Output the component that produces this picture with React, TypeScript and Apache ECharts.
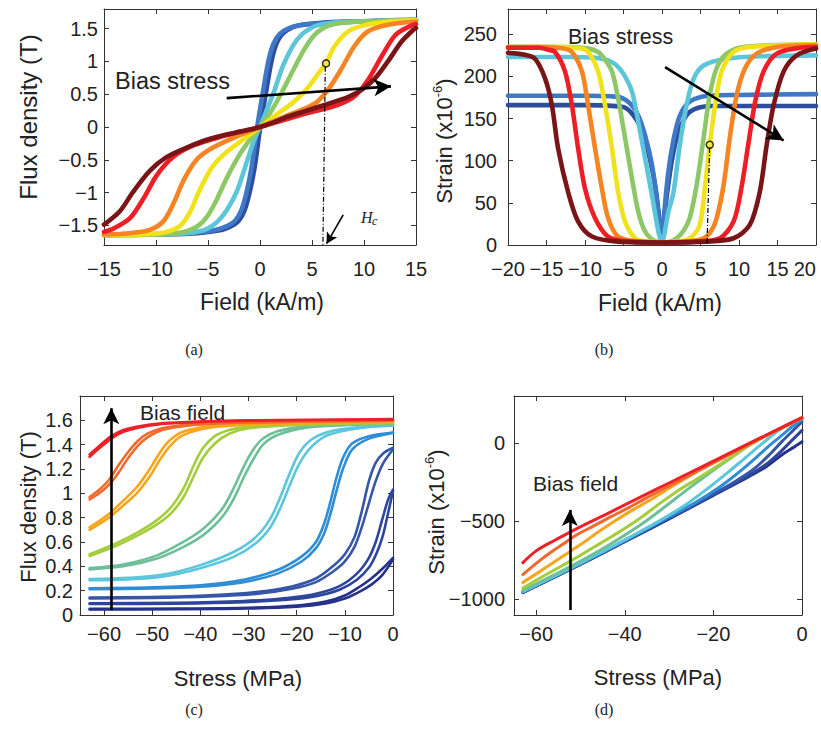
import React, { useEffect, useRef } from 'react';
import * as echarts from 'echarts';

// ---------- (a) Flux density vs field, one curve per bias stress ----------
const aFieldTicks = [-15, -10, -5, 0, 5, 10, 15];
const aFluxTicks = [-1.5, -1, -0.5, 0, 0.5, 1, 1.5];
const aBlueDark = [[-15,-1.65],[-12,-1.645],[-9,-1.64],[-6,-1.62],[-4,-1.58],[-3,-1.53],[-2.1,-1.44],[-1.5,-1.28],[-1.0,-1.0],[-0.5,-0.6],[0,-0.03],[0.6,0.55],[1.1,1.0],[1.6,1.28],[2.2,1.43],[3.1,1.52],[4,1.56],[6,1.59],[9,1.61],[12,1.625],[15,1.635]];
const aBlueMid = [[-15,-1.64],[-12,-1.635],[-9,-1.63],[-6,-1.61],[-4.3,-1.57],[-3.3,-1.52],[-2.4,-1.43],[-1.8,-1.27],[-1.3,-1.0],[-0.8,-0.6],[-0.3,-0.03],[0.3,0.55],[0.8,1.0],[1.3,1.27],[1.9,1.42],[2.8,1.51],[3.8,1.55],[6,1.585],[9,1.605],[12,1.62],[15,1.63]];
const aCyan = [[-15,-1.645],[-10,-1.64],[-7,-1.62],[-5.5,-1.58],[-4.8,-1.53],[-4,-1.43],[-3.2,-1.27],[-2.2,-0.97],[-1.3,-0.55],[-0.5,-0.17],[0,0],[0.5,0.2],[1.3,0.52],[2.2,0.93],[3.2,1.25],[4,1.41],[4.8,1.5],[5.5,1.55],[7,1.59],[10,1.61],[15,1.63]];
const aGreen = [[-15,-1.645],[-10,-1.64],[-8,-1.62],[-6.7,-1.57],[-5.8,-1.49],[-5.1,-1.37],[-4.2,-1.12],[-3.2,-0.78],[-2,-0.43],[-1,-0.2],[0,0],[1,0.22],[2,0.5],[3.2,0.87],[4.2,1.17],[5.1,1.38],[5.8,1.48],[6.7,1.55],[8,1.59],[10,1.61],[15,1.63]];
const aYellow = [[-15,-1.645],[-11,-1.635],[-9,-1.6],[-7.7,-1.51],[-6.7,-1.29],[-5.8,-0.96],[-4.5,-0.59],[-3.2,-0.38],[-1.6,-0.19],[0,0],[1.6,0.19],[3.3,0.39],[4.6,0.6],[5.9,0.88],[6.35,0.97],[7.2,1.24],[8.5,1.46],[10,1.55],[12,1.6],[15,1.63]];
const aOrange = [[-15,-1.64],[-12.5,-1.62],[-10.6,-1.57],[-9.3,-1.44],[-8.3,-1.16],[-7.3,-0.8],[-6.1,-0.5],[-4.8,-0.34],[-2.6,-0.17],[0,0],[2.7,0.18],[5.2,0.35],[6.5,0.56],[7.8,0.88],[9.1,1.24],[10.4,1.46],[12.3,1.56],[15,1.61]];
const aRed = [[-15,-1.6],[-14.1,-1.55],[-12.5,-1.39],[-11.2,-1.09],[-9.9,-0.73],[-8.3,-0.45],[-6.4,-0.28],[-3.8,-0.15],[0,0],[4.3,0.2],[7.5,0.34],[9.1,0.47],[10.4,0.72],[11.7,1.08],[13,1.4],[14.3,1.53],[15,1.57]];
const aMaroon = [[-15,-1.49],[-13.5,-1.29],[-12.2,-0.99],[-10.6,-0.67],[-9,-0.46],[-7,-0.31],[-4.8,-0.18],[-1.9,-0.07],[0,0],[1.1,0.06],[2.7,0.16],[5.9,0.32],[8.5,0.46],[9.8,0.57],[11.1,0.75],[12.3,1.0],[13.6,1.3],[14.6,1.46],[15,1.51]];
const aMarker = [[6.35, 0.97]];

// ---------- (b) Strain vs field ----------
const bFieldTicks = [-20, -15, -10, -5, 0, 5, 10, 15, 20];
const bStrainTicks = [0, 50, 100, 150, 200, 250];
const bBlueDark = [[-20,166],[-10,166],[-5.2,164],[-3.9,156],[-2.6,136],[-1.8,111],[-0.9,71],[-0.25,24],[0,3],[0.2,24],[0.8,71],[1.5,111],[2.3,138],[3.6,158],[6.2,165],[10,165],[20,165]];
const bBlueMid = [[-20,177],[-10,177],[-6,176],[-4.4,170],[-3.1,154],[-2.2,130],[-1.3,95],[-0.7,55],[-0.25,16],[0,3],[0.2,28],[0.8,85],[1.5,125],[2.3,153],[3.6,170],[6,177],[10,178],[20,179]];
const bCyan = [[-20,223],[-12,223],[-8.5,222],[-7,219],[-6,214],[-5,203],[-3.9,182],[-3.1,147],[-2.2,103],[-1.3,59],[-0.45,15],[0,3],[0.35,15],[0.8,38],[1.5,63],[2.3,118],[3.2,166],[4.1,197],[5.4,213],[8.4,221],[13,224],[20,225]];
const bGreen = [[-20,235],[-12,235],[-9.5,233],[-8.3,229],[-7.4,220],[-6.5,206],[-5.7,174],[-4.8,127],[-3.9,79],[-3.1,40],[-2.2,16],[-1,5],[0,3],[1,4],[1.9,8],[2.8,17],[3.6,32],[4.5,71],[5.4,127],[6.2,178],[7.1,210],[8.4,227],[10.6,235],[20,238]];
const bYellow = [[-20,235],[-13,235],[-10.5,233],[-9.6,229],[-8.3,206],[-7.4,166],[-6.5,115],[-5.7,63],[-4.8,28],[-3.5,8],[-2,4],[0,3],[2,4],[3.6,8],[4.9,24],[5.6,71],[6.2,119],[6.9,166],[7.75,206],[9.3,229],[11.4,235],[20,238]];
const bOrange = [[-20,235],[-15,235],[-12.8,233],[-11.7,229],[-10.4,206],[-9.6,166],[-8.7,115],[-7.8,67],[-7,32],[-5.7,10],[-3,4],[0,3],[3,4],[5.4,8],[6.4,17],[7.1,32],[8,71],[8.8,127],[9.7,178],[10.8,210],[12.3,227],[14.9,235],[20,237]];
const bRed = [[-20,234],[-16,234],[-14.9,232],[-13.9,229],[-12.6,206],[-11.7,166],[-10.9,115],[-10,67],[-8.7,32],[-7,10],[-4,4],[0,3],[4,4],[7.5,8],[9.3,28],[10.3,67],[11.2,119],[12.1,170],[13.2,206],[14.9,227],[17.9,234],[20,235]];
const bMaroon = [[-20,228],[-18,226],[-16.5,221],[-15.2,198],[-14.3,166],[-13.5,115],[-12.2,63],[-10.9,28],[-9.1,10],[-5.7,4],[0,3],[5.7,4],[9.3,8],[11.4,24],[12.7,63],[13.6,119],[14.5,166],[15.8,206],[17.5,225],[20,233]];
const bMarker = [[6.2, 119]];

// ---------- (c) Flux density vs stress, two branches per bias field ----------
const cStressTicks = [-60, -50, -40, -30, -20, -10, 0];
const cFluxTicks = [0, 0.2, 0.4, 0.6, 0.8, 1, 1.2, 1.4, 1.6];
const c1Up = [[-63,0.05],[-45,0.053],[-30,0.06],[-20,0.078],[-14,0.11],[-10,0.16],[-7,0.23],[-4.5,0.3],[-2.2,0.38],[0,0.47]];
const c1Dn = [[-63,0.045],[-45,0.047],[-30,0.053],[-20,0.068],[-14,0.095],[-10,0.135],[-7,0.19],[-4.5,0.25],[-2.2,0.33],[0,0.455]];
const c2Up = [[-63,0.096],[-45,0.1],[-31,0.115],[-22,0.14],[-16,0.175],[-11,0.24],[-7.5,0.34],[-5,0.47],[-3.5,0.61],[-2.2,0.79],[-1,0.95],[0,1.03]];
const c2Dn = [[-63,0.09],[-45,0.093],[-31,0.105],[-22,0.125],[-16,0.155],[-11,0.21],[-7.5,0.29],[-5,0.39],[-3.5,0.5],[-2.2,0.64],[-1,0.84],[0,1.02]];
const c3Up = [[-63,0.143],[-50,0.148],[-38,0.162],[-28,0.19],[-21,0.235],[-16,0.3],[-12.5,0.4],[-10,0.5],[-8,0.64],[-6.5,0.85],[-5,1.1],[-3.6,1.25],[-2,1.33],[0,1.375]];
const c3Dn = [[-63,0.136],[-50,0.14],[-38,0.152],[-28,0.175],[-21,0.215],[-16,0.27],[-12.5,0.355],[-10,0.44],[-8,0.56],[-6.5,0.72],[-5,0.92],[-3.6,1.1],[-2,1.25],[0,1.36]];
const c4Up = [[-63,0.22],[-50,0.228],[-40,0.245],[-31,0.29],[-24,0.37],[-19,0.48],[-16,0.6],[-14.3,0.75],[-13,0.93],[-11.8,1.12],[-10.4,1.29],[-8.5,1.41],[-5,1.47],[0,1.5]];
const c4Dn = [[-63,0.212],[-50,0.218],[-40,0.232],[-31,0.27],[-24,0.34],[-19,0.44],[-16,0.55],[-14.3,0.67],[-13,0.83],[-11.8,1.01],[-10.4,1.2],[-8.5,1.36],[-5,1.45],[0,1.497]];
const c5Up = [[-63,0.295],[-55,0.305],[-48,0.33],[-40,0.41],[-33,0.52],[-28.5,0.64],[-25.5,0.79],[-23.5,0.96],[-21.5,1.16],[-19.5,1.33],[-17,1.44],[-13.5,1.505],[-7,1.545],[0,1.56]];
const c5Dn = [[-63,0.285],[-55,0.293],[-48,0.315],[-40,0.385],[-33,0.48],[-28.5,0.59],[-25.5,0.72],[-23.5,0.87],[-21.5,1.06],[-19.5,1.24],[-17,1.38],[-13.5,1.48],[-7,1.535],[0,1.555]];
const c6Up = [[-63,0.385],[-56,0.415],[-49,0.49],[-44,0.59],[-40,0.69],[-37,0.8],[-35,0.9],[-33,1.05],[-31,1.22],[-29,1.36],[-27,1.45],[-24,1.51],[-18,1.55],[-10,1.565],[0,1.575]];
const c6Dn = [[-63,0.375],[-56,0.4],[-49,0.465],[-44,0.55],[-40,0.64],[-37,0.74],[-35,0.83],[-33,0.96],[-31,1.13],[-29,1.28],[-27,1.4],[-24,1.48],[-18,1.54],[-10,1.56],[0,1.572]];
const c7Up = [[-63,0.5],[-58,0.58],[-53,0.68],[-49,0.78],[-46,0.89],[-43.5,1.04],[-41.5,1.22],[-39.5,1.37],[-37,1.47],[-34,1.52],[-30,1.548],[-20,1.568],[-10,1.575],[0,1.58]];
const c7Dn = [[-63,0.485],[-58,0.56],[-53,0.655],[-49,0.745],[-46,0.84],[-43.5,0.97],[-41.5,1.13],[-39.5,1.29],[-37,1.41],[-34,1.49],[-30,1.535],[-20,1.562],[-10,1.572],[0,1.578]];
const c8Up = [[-63,0.72],[-59,0.83],[-56,0.94],[-53,1.06],[-50.5,1.2],[-48.5,1.33],[-46.5,1.43],[-44,1.5],[-40,1.54],[-35,1.56],[-25,1.575],[-10,1.583],[0,1.588]];
const c8Dn = [[-63,0.7],[-59,0.8],[-56,0.9],[-53,1.01],[-50.5,1.14],[-48.5,1.27],[-46.5,1.38],[-44,1.47],[-40,1.525],[-35,1.552],[-25,1.57],[-10,1.58],[0,1.585]];
const c9Up = [[-63,0.97],[-61,1.03],[-59,1.11],[-57,1.23],[-55,1.34],[-53,1.43],[-51,1.49],[-48,1.535],[-44,1.56],[-38,1.575],[-30,1.585],[-15,1.593],[0,1.6]];
const c9Dn = [[-63,0.95],[-61,1.0],[-59,1.07],[-57,1.17],[-55,1.29],[-53,1.39],[-51,1.46],[-48,1.52],[-44,1.55],[-38,1.57],[-30,1.582],[-15,1.59],[0,1.597]];
const c10Up = [[-63,1.32],[-61,1.39],[-58.5,1.47],[-56,1.52],[-53,1.55],[-48,1.575],[-40,1.59],[-30,1.6],[-15,1.605],[0,1.61]];
const c10Dn = [[-63,1.3],[-61,1.37],[-58.5,1.45],[-56,1.505],[-53,1.54],[-48,1.57],[-40,1.587],[-30,1.597],[-15,1.603],[0,1.605]];

// ---------- (d) Strain vs stress ----------
const dStressTicks = [-60, -40, -20, 0];
const dStrainTicks = [-1000, -500, 0];
const d1 = [[-63,-957],[-50,-777],[-40,-632],[-30,-485],[-20,-335],[-12,-215],[-8,-150],[-4.5,-75],[-2,-30],[0,8]];
const d2 = [[-63,-955],[-50,-775],[-40,-630],[-30,-482],[-20,-332],[-12,-208],[-8,-135],[-5,-60],[-2.5,10],[0,80]];
const d3 = [[-63,-953],[-50,-773],[-40,-628],[-30,-478],[-20,-326],[-15,-245],[-11,-170],[-7.5,-80],[-4.5,10],[-2,80],[0,135]];
const d4 = [[-63,-952],[-50,-771],[-40,-625],[-30,-472],[-24,-380],[-19,-290],[-15,-205],[-11,-110],[-7.5,-20],[-4.5,50],[-2,110],[0,150]];
const d5 = [[-63,-950],[-50,-768],[-40,-620],[-32,-495],[-26,-390],[-21,-285],[-17,-195],[-13,-100],[-9,-5],[-5,85],[0,158]];
const d6 = [[-63,-942],[-55,-830],[-48,-725],[-42,-625],[-36,-515],[-31,-410],[-26,-300],[-21,-195],[-16,-95],[-10,20],[-5,90],[0,160]];
const d7 = [[-63,-927],[-57,-830],[-51,-735],[-46,-650],[-41,-565],[-36,-470],[-32,-385],[-28,-305],[-24,-235],[-20,-165],[-15,-72],[-10,18],[0,160]];
const d8 = [[-63,-893],[-58,-800],[-54,-725],[-50,-650],[-46,-570],[-42,-495],[-38,-425],[-34,-360],[-30,-290],[-25,-205],[-20,-125],[-10,20],[0,160]];
const d9 = [[-63,-842],[-60,-770],[-57,-705],[-54,-648],[-51,-590],[-47,-530],[-43,-470],[-39,-412],[-35,-350],[-30,-275],[-20,-128],[-10,18],[0,160]];
const d10 = [[-63,-765],[-60,-690],[-56,-625],[-52,-565],[-48,-508],[-44,-453],[-40,-396],[-35,-326],[-30,-256],[-25,-186],[-20,-116],[-15,-46],[-10,24],[-5,93],[0,162]];

// ---------- styles ----------
const FONT = "'Liberation Sans', Arial, Helvetica, sans-serif";
const SERIF = "'Liberation Serif', 'Times New Roman', serif";
const INK = '#222';
const stressColors = ['#2d4e9e', '#3e78c6', '#5cc5da', '#8dc866', '#f2e21c', '#f58423', '#ec1f26', '#7a1417'];
const fieldColors = ['#25318b', '#2d459b', '#3656a8', '#2f8dd6', '#5cc6dc', '#6dbf99', '#a4cd3b', '#f8a51e', '#f1692c', '#ea2228'];

const fmt = (v: number) => (v < 0 ? '\u2212' + String(-v) : String(v));

function axisPair(gridIndex: number, dim: 'x' | 'y', min: number, max: number, ticks: number[], margin: number, fontSize: number) {
  const base = {
    type: 'value', gridIndex, min, max,
    splitLine: { show: false },
    axisLine: { show: true, onZero: false, lineStyle: { color: '#333', width: 1 } },
  };
  const main = {
    ...base,
    position: dim === 'x' ? 'bottom' : 'left',
    axisTick: { show: true, inside: true, length: 5, customValues: ticks, lineStyle: { color: '#333' } },
    axisLabel: {
      show: true, customValues: ticks, formatter: fmt, margin, fontSize, color: INK, fontFamily: FONT,
      alignMaxLabel: dim === 'x' && max === 20 ? 'right' : undefined,
    },
  };
  const mirror = {
    ...base,
    position: dim === 'x' ? 'top' : 'right',
    axisTick: { show: true, inside: true, length: 5, customValues: ticks, lineStyle: { color: '#333' } },
    axisLabel: { show: false },
  };
  return [main, mirror];
}

function lineSeries(g: number, data: number[][], color: string, width: number, z = 2) {
  return {
    type: 'line', xAxisIndex: g * 2, yAxisIndex: g * 2, data,
    showSymbol: false, symbol: 'none', smooth: 0.3,
    lineStyle: { color, width, cap: 'round', join: 'round' }, itemStyle: { color }, silent: true, z,
  };
}

const arrow = (from: number[], to: number[], width: number, size: number[]) => [
  { coord: from, symbol: 'none', lineStyle: { color: '#000', width, type: 'solid' } },
  { coord: to, symbol: 'arrow', symbolSize: size },
];

function buildOption() {
  const xAxis = [
    ...axisPair(0, 'x', -15, 15, aFieldTicks, 14, 20),
    ...axisPair(1, 'x', -20, 20, bFieldTicks, 14, 20),
    ...axisPair(2, 'x', -65, 0, cStressTicks, 9, 20),
    ...axisPair(3, 'x', -65, 0, dStressTicks, 9, 20),
  ];
  const yAxis = [
    ...axisPair(0, 'y', -1.8, 1.8, aFluxTicks, 6, 20),
    ...axisPair(1, 'y', 0, 280, bStrainTicks, 11, 20),
    ...axisPair(2, 'y', 0, 1.8, cFluxTicks, 7, 20),
    ...axisPair(3, 'y', -1100, 300, dStrainTicks, 9, 20),
  ];

  const series: any[] = [];
  const aCurves = [aBlueDark, aBlueMid, aCyan, aGreen, aYellow, aOrange, aRed, aMaroon];
  aCurves.forEach((d, i) => series.push(lineSeries(0, d, stressColors[i], 4.6)));
  const bCurves = [bBlueDark, bBlueMid, bCyan, bGreen, bYellow, bOrange, bRed, bMaroon];
  bCurves.forEach((d, i) => series.push(lineSeries(1, d, stressColors[i], 4.6)));
  const cUp = [c1Up, c2Up, c3Up, c4Up, c5Up, c6Up, c7Up, c8Up, c9Up, c10Up];
  const cDn = [c1Dn, c2Dn, c3Dn, c4Dn, c5Dn, c6Dn, c7Dn, c8Dn, c9Dn, c10Dn];
  cUp.forEach((d, i) => {
    series.push(lineSeries(2, d, fieldColors[i], 2.6));
    series.push(lineSeries(2, cDn[i], fieldColors[i], 2.6));
  });
  const dCurves = [d1, d2, d3, d4, d5, d6, d7, d8, d9, d10];
  dCurves.forEach((d, i) => series.push(lineSeries(3, d, fieldColors[i], 3)));

  // annotations (a)
  series.push({
    type: 'scatter', xAxisIndex: 0, yAxisIndex: 0, data: aMarker, symbol: 'circle', symbolSize: 7,
    itemStyle: { color: '#f5ea4a', borderColor: '#000', borderWidth: 1.5 }, z: 10, silent: true,
    markLine: {
      silent: true, animation: false, label: { show: false }, symbol: ['none', 'none'],
      lineStyle: { color: '#000', width: 1.2, type: [5, 2, 1, 2] },
      data: [[{ coord: [6.28, 0.92] }, { coord: [6.05, -1.8] }]],
    },
  });
  series.push({
    type: 'line', xAxisIndex: 0, yAxisIndex: 0, data: [], silent: true,
    markLine: {
      silent: true, animation: false, label: { show: false },
      data: [arrow([-3.2, 0.44], [12.6, 0.62], 2.6, [13, 17]), arrow([8.0, -1.34], [6.4, -1.78], 1.6, [9, 11])],
    },
  });
  // annotations (b)
  series.push({
    type: 'scatter', xAxisIndex: 2, yAxisIndex: 2, data: bMarker, symbol: 'circle', symbolSize: 7,
    itemStyle: { color: '#f5ea4a', borderColor: '#000', borderWidth: 1.5 }, z: 10, silent: true,
    markLine: {
      silent: true, animation: false, label: { show: false }, symbol: ['none', 'none'],
      lineStyle: { color: '#000', width: 1.2, type: [5, 2, 1, 2] },
      data: [[{ coord: [6.18, 115] }, { coord: [5.85, 0] }]],
    },
  });
  series.push({
    type: 'line', xAxisIndex: 2, yAxisIndex: 2, data: [], silent: true,
    markLine: {
      silent: true, animation: false, label: { show: false },
      data: [arrow([0.4, 211], [15.8, 124], 2.6, [13, 17])],
    },
  });
  // annotations (c), (d)
  series.push({
    type: 'line', xAxisIndex: 4, yAxisIndex: 4, data: [], silent: true,
    markLine: {
      silent: true, animation: false, label: { show: false },
      data: [arrow([-58.5, 0.04], [-58.5, 1.7], 2.6, [12, 16])],
    },
  });
  series.push({
    type: 'line', xAxisIndex: 6, yAxisIndex: 6, data: [], silent: true,
    markLine: {
      silent: true, animation: false, label: { show: false },
      data: [arrow([-52.4, -1068], [-52.4, -428], 2.6, [12, 16])],
    },
  });

  const txt = (x: number, y: number, text: string, size: number, opts: any = {}) => ({
    type: 'text', x, y, rotation: opts.rotation || 0, silent: true, z: 100,
    style: {
      text, fill: opts.fill || INK, fontSize: size, fontFamily: opts.family || FONT,
      fontStyle: opts.italic ? 'italic' : 'normal',
      align: opts.align || 'center', verticalAlign: opts.valign || 'middle',
    },
  });
  const strainTitle = (x: number, y: number) => ({
    type: 'text', x, y, rotation: Math.PI / 2, silent: true, z: 100,
    style: {
      text: '{n|Strain (x10}{s|-6}{n|)}', align: 'center', verticalAlign: 'middle',
      rich: {
        n: { fontSize: 22, fontFamily: FONT, fill: INK, lineHeight: 26 },
        s: { fontSize: 13, fontFamily: FONT, fill: INK, verticalAlign: 'top', lineHeight: 26 },
      },
    },
  });

  const graphic = [
    txt(262, 302, 'Field (kA/m)', 23),
    txt(28, 117, 'Flux density (T)', 24, { rotation: Math.PI / 2 }),
    txt(660, 303, 'Field (kA/m)', 23),
    strainTitle(444, 141),
    txt(238, 678, 'Stress (MPa)', 22),
    txt(28, 507, 'Flux density (T)', 22, { rotation: Math.PI / 2 }),
    txt(658, 677, 'Stress (MPa)', 22),
    strainTitle(436, 512),
    txt(115, 81, 'Bias stress', 23.5, { align: 'left' }),
    txt(568, 37, 'Bias stress', 21.5, { align: 'left' }),
    txt(140, 412, 'Bias field', 21, { align: 'left' }),
    txt(533, 483, 'Bias field', 21, { align: 'left' }),
    txt(361, 217, 'H', 16, { family: SERIF, italic: true, align: 'left' }),
    txt(372, 221, 'c', 12, { family: SERIF, italic: true, align: 'left' }),
    txt(194, 349, '(a)', 16, { family: SERIF }),
    txt(604, 349, '(b)', 16, { family: SERIF }),
    txt(194, 709, '(c)', 16, { family: SERIF }),
    txt(604, 709, '(d)', 16, { family: SERIF }),
  ];

  return {
    animation: false,
    backgroundColor: '#ffffff',
    grid: [
      { left: 104, top: 9, width: 312, height: 236, outerBoundsMode: 'none' },
      { left: 508, top: 9, width: 308, height: 236, outerBoundsMode: 'none' },
      { left: 80, top: 396, width: 313, height: 219, outerBoundsMode: 'none' },
      { left: 514, top: 396, width: 288, height: 219, outerBoundsMode: 'none' },
    ],
    xAxis, yAxis, series, graphic,
  };
}

export default function App() {
  const ref = useRef<HTMLDivElement>(null);
  useEffect(() => {
    if (!ref.current) return;
    const chart = echarts.init(ref.current, undefined, { renderer: 'svg' });
    chart.setOption(buildOption() as any);
    return () => chart.dispose();
  }, []);
  return (
    <div
      ref={ref}
      style={{ position: 'absolute', left: 0, top: 0, width: 821, height: 735, background: '#fff' }}
    />
  );
}
